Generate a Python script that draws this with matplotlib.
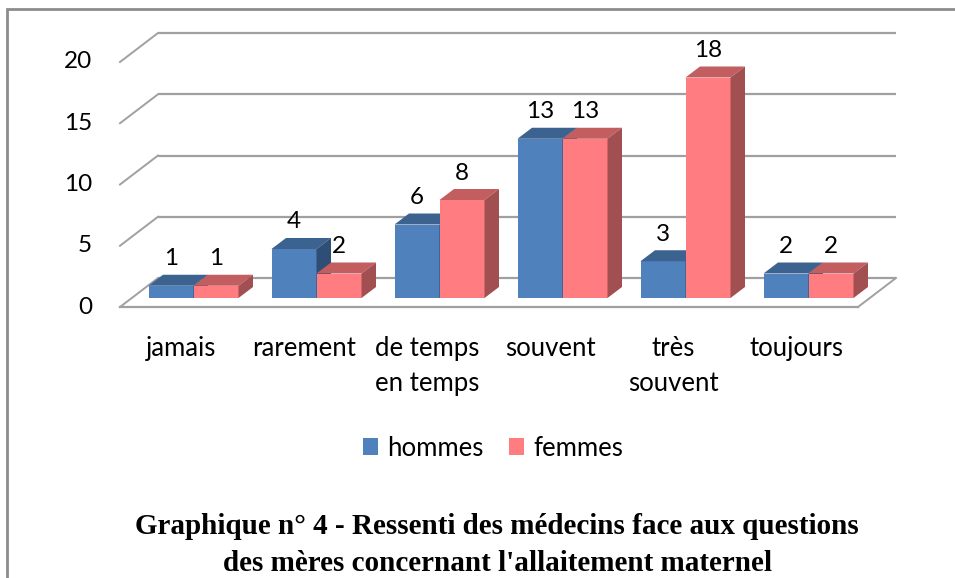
import matplotlib
matplotlib.use("Agg")
import matplotlib.pyplot as plt
from matplotlib.patches import Polygon, Patch, Rectangle

# ---------------- data ----------------
categories = ["jamais", "rarement", "de temps\nen temps", "souvent", "très\nsouvent", "toujours"]
hommes = [1, 4, 6, 13, 3, 2]
femmes = [1, 2, 8, 13, 18, 2]
series_names = ["hommes", "femmes"]
yticks = [0, 5, 10, 15, 20]
title = "Graphique n° 4 - Ressenti des médecins face aux questions\ndes mères concernant l'allaitement maternel"

# ---------------- style ----------------
W, H, DPI = 955, 578, 100
PITCH = 123.0      # px per category
UNIT = 12.25       # px per value unit
X0PX, Y0PX = 193.5, 298.0   # pixel position of category 0 / value 0 on the bar front plane

def px_dx(p):
    return p / PITCH

def px_dy(p):
    return p / UNIT

front_face = {"hommes": "#4F81BD", "femmes": "#FF7C80"}
top_face = {"hommes": "#3C6290", "femmes": "#C25D60"}
side_face = {"hommes": "#2F4E75", "femmes": "#A24F52"}
grid_col = "#A0A0A0"

BAR_W = px_dx(45)
BAR_D = (px_dx(14.5), px_dy(11))      # bar depth
BACK = (px_dx(26), px_dy(20))         # back wall offset from bar plane
FRONT = (px_dx(-12), px_dy(-9))       # floor front edge offset from bar plane
XL, XR = -0.5, len(categories) - 0.5

NUM_FS = 17.5
TXT_FS = 18.5

plt.rcParams["font.family"] = ["Lato", "DejaVu Sans"]

fig = plt.figure(figsize=(W / DPI, H / DPI), dpi=DPI)
ax = fig.add_axes([0, 0, 1, 1])
ax.set_xlim(-X0PX / PITCH, (W - X0PX) / PITCH)
ax.set_ylim((Y0PX - H) / UNIT, Y0PX / UNIT)
ax.axis("off")

# outer frame
fig.patches.append(Rectangle((7 / W, -0.05), 1.1, 1 - 9 / H + 0.05, transform=fig.transFigure,
                             fill=False, edgecolor="#8C8C8C", linewidth=2.0))

# back wall gridlines + side wall diagonals
for g in yticks:
    ax.plot([XL + BACK[0], XR + BACK[0]], [g + BACK[1], g + BACK[1]], color=grid_col, lw=1.6,
            solid_capstyle="butt", zorder=1)
    ax.plot([XL + FRONT[0], XL + BACK[0]], [g + FRONT[1], g + BACK[1]], color=grid_col, lw=1.4, zorder=1)
    ax.text(XL + FRONT[0] - px_dx(28), g + FRONT[1], str(g), ha="right", va="center",
            fontsize=NUM_FS, color="#000000")

# floor outline
ax.plot([XL + FRONT[0], XR + FRONT[0]], [FRONT[1], FRONT[1]], color=grid_col, lw=1.6, zorder=1)
ax.plot([XR + FRONT[0], XR + BACK[0]], [FRONT[1], BACK[1]], color=grid_col, lw=1.4, zorder=1)

# bars
z = 3
for i, cat in enumerate(categories):
    for k, (name, vals) in enumerate(zip(series_names, [hommes, femmes])):
        v = vals[i]
        x0 = i - BAR_W + k * BAR_W
        x1 = x0 + BAR_W
        ax.bar(x0, v, width=BAR_W, align="edge", color=front_face[name], linewidth=0, zorder=z)
        ax.add_patch(Polygon([(x0, v), (x1, v), (x1 + BAR_D[0], v + BAR_D[1]), (x0 + BAR_D[0], v + BAR_D[1])],
                             closed=True, facecolor=top_face[name], edgecolor="none", zorder=z))
        ax.add_patch(Polygon([(x1, 0), (x1, v), (x1 + BAR_D[0], v + BAR_D[1]), (x1 + BAR_D[0], BAR_D[1])],
                             closed=True, facecolor=side_face[name], edgecolor="none", zorder=z))
        ax.text((x0 + x1) / 2, v + px_dy(27), str(v), ha="center", va="center", fontsize=NUM_FS,
                color="#000000", zorder=10)
        z += 1
    ax.text(i + FRONT[0], px_dy(-38), cat, ha="center", va="top", fontsize=TXT_FS,
            linespacing=1.5, color="#000000")

# legend
handles = [Patch(facecolor=front_face[n], edgecolor="none", label=n) for n in series_names]
fig.legend(handles=handles, loc="center", bbox_to_anchor=(493 / W, 1 - 448 / H), ncol=2,
           frameon=False, fontsize=TXT_FS, handlelength=0.58, handleheight=0.62, handletextpad=0.35,
           columnspacing=1.0)

# title
fig.text(497 / W, 1 - 545 / H, title, ha="center", va="center", fontsize=21,
         fontweight="bold", family=["Liberation Serif", "DejaVu Serif"], linespacing=1.45)

fig.savefig("out.png", dpi=DPI)
